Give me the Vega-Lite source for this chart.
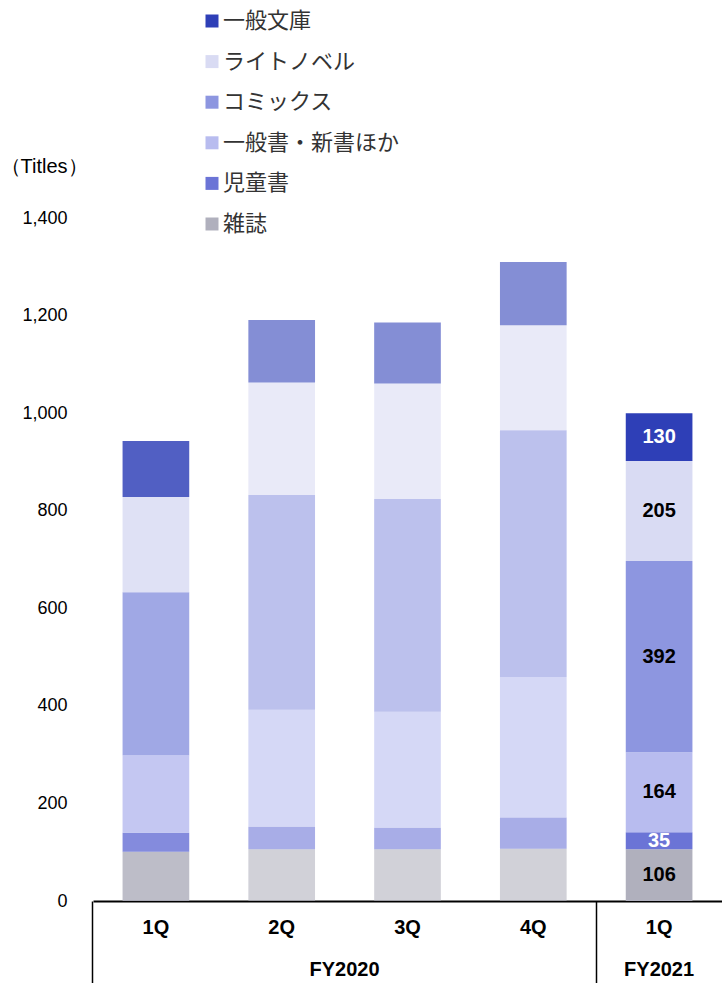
{
  "$schema": "https://vega.github.io/schema/vega-lite/v6.json",
  "autosize": {"type": "none"},
  "padding": {"left": 93, "top": 218, "right": 0, "bottom": 82},
  "width": 629,
  "height": 683,
  "config": {"view": {"stroke": null}, "font": "Liberation Sans"},
  "data": {"values": [
    {"period": "FY2020-1Q", "category": "雑誌", "rank": 1, "titles": 101, "label": ""},
    {"period": "FY2020-1Q", "category": "児童書", "rank": 2, "titles": 39, "label": ""},
    {"period": "FY2020-1Q", "category": "一般書・新書ほか", "rank": 3, "titles": 159, "label": ""},
    {"period": "FY2020-1Q", "category": "コミックス", "rank": 4, "titles": 334, "label": ""},
    {"period": "FY2020-1Q", "category": "ライトノベル", "rank": 5, "titles": 195, "label": ""},
    {"period": "FY2020-1Q", "category": "一般文庫", "rank": 6, "titles": 115, "label": ""},
    {"period": "FY2020-2Q", "category": "雑誌", "rank": 1, "titles": 106, "label": ""},
    {"period": "FY2020-2Q", "category": "児童書", "rank": 2, "titles": 46, "label": ""},
    {"period": "FY2020-2Q", "category": "一般書・新書ほか", "rank": 3, "titles": 240, "label": ""},
    {"period": "FY2020-2Q", "category": "コミックス", "rank": 4, "titles": 440, "label": ""},
    {"period": "FY2020-2Q", "category": "ライトノベル", "rank": 5, "titles": 231, "label": ""},
    {"period": "FY2020-2Q", "category": "一般文庫", "rank": 6, "titles": 128, "label": ""},
    {"period": "FY2020-3Q", "category": "雑誌", "rank": 1, "titles": 106, "label": ""},
    {"period": "FY2020-3Q", "category": "児童書", "rank": 2, "titles": 44, "label": ""},
    {"period": "FY2020-3Q", "category": "一般書・新書ほか", "rank": 3, "titles": 238, "label": ""},
    {"period": "FY2020-3Q", "category": "コミックス", "rank": 4, "titles": 436, "label": ""},
    {"period": "FY2020-3Q", "category": "ライトノベル", "rank": 5, "titles": 237, "label": ""},
    {"period": "FY2020-3Q", "category": "一般文庫", "rank": 6, "titles": 125, "label": ""},
    {"period": "FY2020-4Q", "category": "雑誌", "rank": 1, "titles": 107, "label": ""},
    {"period": "FY2020-4Q", "category": "児童書", "rank": 2, "titles": 64, "label": ""},
    {"period": "FY2020-4Q", "category": "一般書・新書ほか", "rank": 3, "titles": 288, "label": ""},
    {"period": "FY2020-4Q", "category": "コミックス", "rank": 4, "titles": 506, "label": ""},
    {"period": "FY2020-4Q", "category": "ライトノベル", "rank": 5, "titles": 215, "label": ""},
    {"period": "FY2020-4Q", "category": "一般文庫", "rank": 6, "titles": 130, "label": ""},
    {"period": "FY2021-1Q", "category": "雑誌", "rank": 1, "titles": 106, "label": "106"},
    {"period": "FY2021-1Q", "category": "児童書", "rank": 2, "titles": 35, "label": "35"},
    {"period": "FY2021-1Q", "category": "一般書・新書ほか", "rank": 3, "titles": 164, "label": "164"},
    {"period": "FY2021-1Q", "category": "コミックス", "rank": 4, "titles": 392, "label": "392"},
    {"period": "FY2021-1Q", "category": "ライトノベル", "rank": 5, "titles": 205, "label": "205"},
    {"period": "FY2021-1Q", "category": "一般文庫", "rank": 6, "titles": 98, "label": "130"}
  ]},
  "transform": [
    {"stack": "titles", "groupby": ["period"], "sort": [{"field": "rank", "order": "ascending"}], "as": ["y0", "y1"]}
  ],
  "resolve": {"axis": {"x": "independent"}},
  "layer": [
    {
      "mark": {"type": "bar"},
      "encoding": {
        "x": {
          "field": "period", "type": "nominal", "sort": null,
          "scale": {"paddingInner": 0.47, "paddingOuter": 0.235},
          "axis": {
            "title": null, "orient": "bottom",
            "labelExpr": "substring(datum.value, 7)",
            "labelAngle": 0, "labelFontSize": 20, "labelFontWeight": "bold", "labelColor": "black",
            "bandPosition": -0.4434, "labelPadding": -66,
            "domainColor": "black", "domainWidth": 2,
            "tickColor": "black", "tickWidth": 1.5, "tickSize": 82,
            "tickOpacity": {"condition": {"test": "datum.value === 'FY2020-1Q' || datum.value === 'FY2021-1Q'", "value": 1}, "value": 0}
          }
        },
        "y": {
          "field": "y0", "type": "quantitative",
          "scale": {"domain": [0, 1400], "nice": false},
          "axis": {
            "title": "（Titles）", "titleAngle": 0, "titleAlign": "left", "titleBaseline": "middle",
            "titleX": -93, "titleY": -52, "titleFontSize": 20, "titleFontWeight": "normal", "titleColor": "black",
            "values": [0, 200, 400, 600, 800, 1000, 1200, 1400], "format": ",.0f",
            "labelFontSize": 18, "labelColor": "black", "labelPadding": 26,
            "domain": false, "ticks": false, "tickSize": 0, "grid": false
          }
        },
        "y2": {"field": "y1"},
        "color": {
          "field": "category", "type": "nominal",
          "scale": {
            "domain": ["一般文庫", "ライトノベル", "コミックス", "一般書・新書ほか", "児童書", "雑誌"],
            "range": ["#2e3fb7", "#d9dbf3", "#8d96e0", "#b8bcef", "#6b74d6", "#b0b0bd"]
          },
          "legend": {
            "orient": "none", "legendX": 108, "legendY": -208, "title": null, "padding": 0,
            "symbolType": "square", "symbolSize": 169, "symbolStrokeWidth": 0, "symbolOpacity": 1,
            "labelFont": "Noto Sans CJK JP", "labelFontSize": 22, "labelColor": "#333333", "labelLimit": 0,
            "labelOffset": 0, "rowPadding": 18.6
          }
        },
        "opacity": {
          "field": "period", "type": "nominal",
          "scale": {"type": "ordinal", "domain": ["FY2020-1Q", "FY2020-2Q", "FY2020-3Q", "FY2020-4Q", "FY2021-1Q"], "range": [0.83, 0.59, 0.59, 0.59, 1]},
          "legend": null
        }
      }
    },
    {
      "transform": [
        {"filter": "datum.period === 'FY2021-1Q'"},
        {"fold": ["y0", "y1"], "as": ["edge", "pos"]},
        {"aggregate": [{"op": "mean", "field": "pos", "as": "mid"}], "groupby": ["period", "category", "label"]}
      ],
      "mark": {"type": "text", "fontSize": 20, "fontWeight": "bold", "font": "Liberation Sans", "baseline": "middle", "align": "center"},
      "encoding": {
        "x": {
          "field": "period", "type": "nominal", "sort": null,
          "axis": {
            "title": null, "orient": "bottom",
            "values": ["FY2020-3Q", "FY2021-1Q"],
            "labelExpr": "datum.value === 'FY2021-1Q' ? 'FY2021' : 'FY2020'",
            "labelAngle": 0, "labelFontSize": 20, "labelFontWeight": "bold", "labelColor": "black",
            "labelOffset": {"condition": {"test": "datum.value === 'FY2020-3Q'", "value": -63}, "value": 0},
            "labelPadding": 58, "domain": false, "ticks": false, "tickSize": 0
          }
        },
        "y": {"field": "mid", "type": "quantitative"},
        "text": {"field": "label"},
        "color": {
          "condition": {"test": "datum.category === '一般文庫' || datum.category === '児童書'", "value": "white"},
          "value": "black"
        }
      }
    }
  ]
}
